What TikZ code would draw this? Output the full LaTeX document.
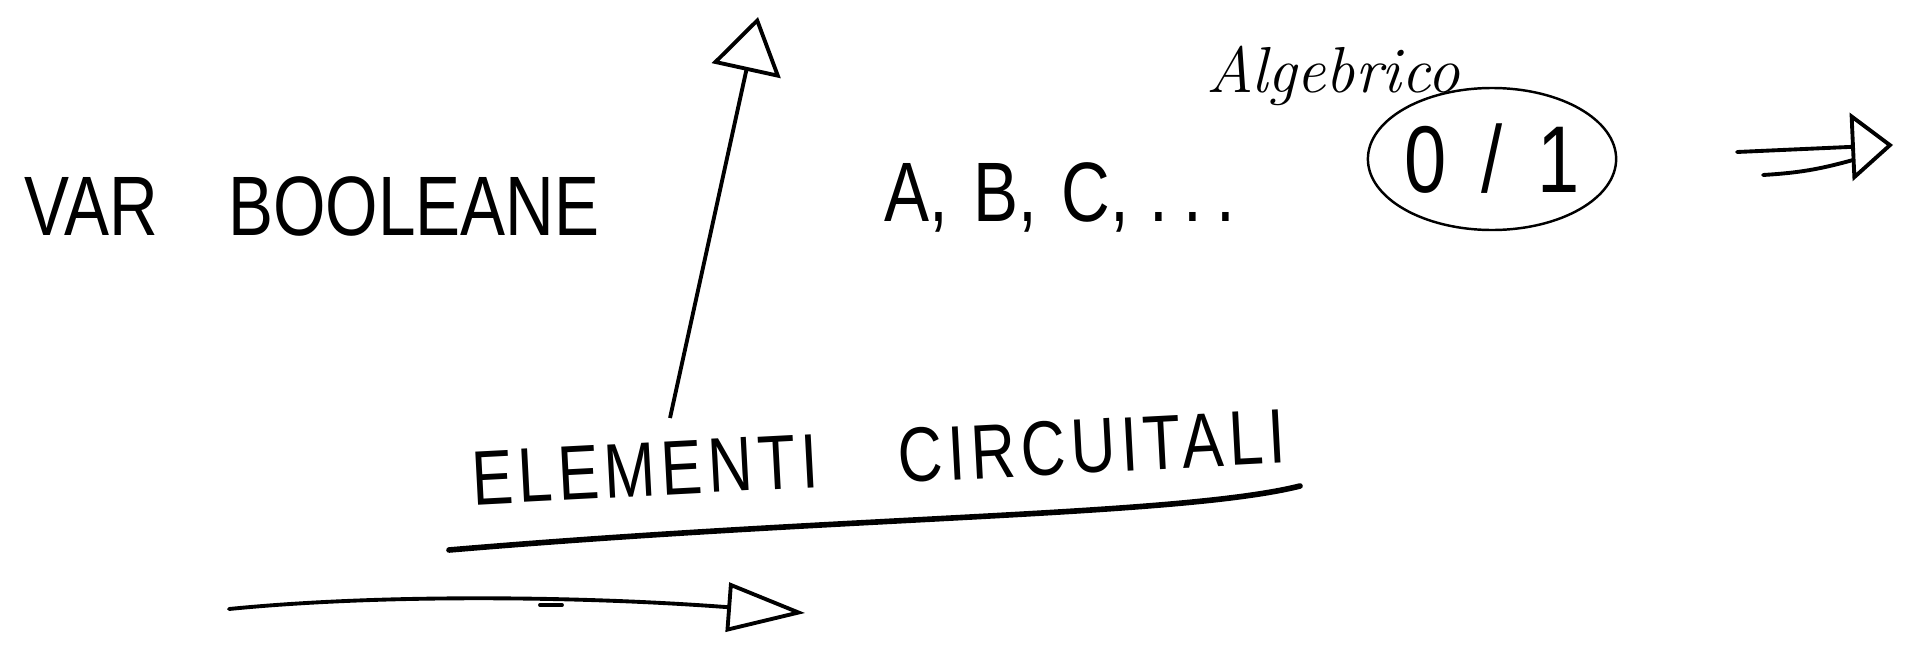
\documentclass[tikz,border=0pt]{standalone}
\usepackage{fontspec}
\newfontfamily\handfont[FakeStretch=0.8]{Liberation Sans}
\newfontfamily\handwide[FakeStretch=0.8, LetterSpace=7]{Liberation Sans}
\usetikzlibrary{shapes.geometric, arrows.meta, positioning}

\begin{document}
\begin{tikzpicture}[
      caps/.style={font=\handfont\fontsize{24}{28}\selectfont, inner sep=0pt, anchor=base},
      bigcaps/.style={font=\handfont\fontsize{27}{30}\selectfont, inner sep=0pt},
      wide/.style={font=\handwide\fontsize{22}{26}\selectfont, inner sep=0pt, anchor=base},
      note/.style={font=\itshape\fontsize{18.5}{22}\selectfont, inner sep=0pt, anchor=base},
      blob/.style={ellipse, draw, line width=0.7pt, minimum width=2.4cm, minimum height=1.42cm},
      arrow/.style={-{Triangle[open, length=5.5mm, width=7mm]}, line width=1.1pt},
      stroke/.style={line width=1.1pt, line cap=round}
    ]
    \useasboundingbox (0,0) rectangle (19.18,6.46);

    % top row
    \node[caps] (varbool) at (3.12,4.11) {VAR\hspace{0.7cm}BOOLEANE};
    \node[caps] (vars) at (10.60,4.25) {A,\hspace{2.5mm}B,\hspace{2.5mm}C,\hspace{2mm}.\hspace{1.5mm}.\hspace{1.5mm}.};
    \node[note] (algebra) at (13.33,5.54) {Algebrico};
    \node[blob, bigcaps] (zeroone) at (14.92,4.87) {0\hspace{3.5mm}/\hspace{3.5mm}1};

    % bottom
    \node[wide, rotate=3] (elementi) at (8.80,1.62) {ELEMENTI\hspace{0.8cm}CIRCUITALI};
    \draw[line width=1.6pt, line cap=round] (4.49,0.96) .. controls (8.5,1.30) and (11.8,1.30) .. (13.00,1.60);

    % arrows
    \coordinate (upfoot) at (6.70,2.28);
    \coordinate (uptip) at (7.58,6.29);
    \draw[arrow] (upfoot) -- (uptip);

    \coordinate (dtail) at (17.37,4.94);
    \coordinate (dtip) at (18.93,5.01);
    \coordinate (dtail2) at (17.63,4.71);
    \coordinate (dbase2) at (18.53,4.86);
    \draw[stroke, -{Triangle[open, length=4.2mm, width=6.8mm]}] (dtail) -- (dtip);
    \draw[stroke] (dtail2) to[bend right=6] (dbase2);

    \coordinate (btail) at (2.29,0.37);
    \coordinate (btip) at (8.05,0.33);
    \draw[stroke, -{Triangle[open, length=7.8mm, width=4.9mm]}] (btail) .. controls (3.8,0.52) and (5.8,0.50) .. (btip);
    \draw[stroke] (5.40,0.41) -- (5.62,0.41);
  \end{tikzpicture}
\end{document}
